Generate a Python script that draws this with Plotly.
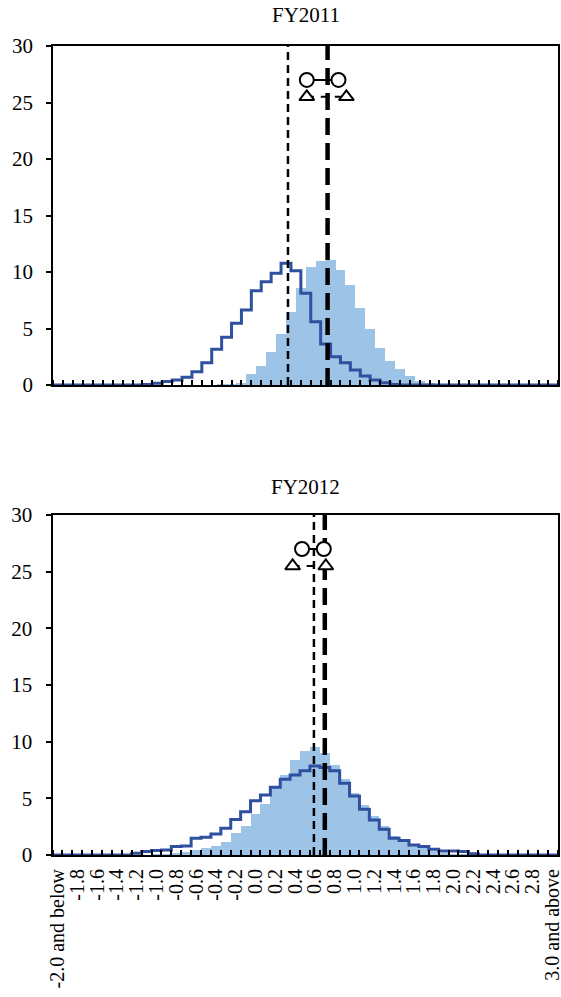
import plotly.graph_objects as go

# ---------------- data ----------------
CATEGORIES = ["-2.0 and below", "-1.9", "-1.8", "-1.7", "-1.6", "-1.5", "-1.4", "-1.3", "-1.2", "-1.1",
              "-1.0", "-0.9", "-0.8", "-0.7", "-0.6", "-0.5", "-0.4", "-0.3", "-0.2", "-0.1",
              "0.0", "0.1", "0.2", "0.3", "0.4", "0.5", "0.6", "0.7", "0.8", "0.9",
              "1.0", "1.1", "1.2", "1.3", "1.4", "1.5", "1.6", "1.7", "1.8", "1.9",
              "2.0", "2.1", "2.2", "2.3", "2.4", "2.5", "2.6", "2.7", "2.8", "2.9",
              "3.0 and above"]

BARS_FY2011 = [0, 0, 0, 0, 0, 0, 0, 0, 0, 0,
               0, 0, 0, 0, 0, 0, 0.05, 0.1, 0.2, 0.95,
               1.7, 2.95, 4.5, 6.5, 8.55, 10.4, 11.0, 11.05, 10.2, 8.85,
               6.8, 5.0, 3.3, 2.15, 1.4, 0.8, 0.35, 0.15, 0.05, 0,
               0, 0, 0, 0, 0, 0, 0, 0, 0, 0,
               0]
LINE_FY2011 = [0, 0, 0, 0, 0, 0, 0, 0, 0, 0.05,
               0.15, 0.3, 0.45, 0.68, 1.18, 1.97, 3.16, 4.22, 5.46, 6.64,
               8.35, 9.14, 9.88, 10.77, 10.1, 8.11, 5.6, 3.63, 2.5, 1.97,
               1.33, 0.8, 0.44, 0.2, 0.05, 0, 0, 0, 0, 0,
               0, 0, 0, 0, 0, 0, 0, 0, 0, 0,
               0]
BARS_FY2012 = [0, 0, 0, 0, 0, 0, 0, 0, 0, 0,
               0.05, 0.1, 0.15, 0.3, 0.44, 0.59, 0.79, 1.15, 1.91, 2.56,
               3.59, 4.5, 5.88, 7.06, 8.38, 9.18, 9.5, 9.03, 7.94, 6.68,
               5.5, 4.41, 3.44, 2.56, 1.68, 1.18, 0.88, 0.59, 0.38, 0.2,
               0.1, 0.05, 0, 0, 0, 0, 0, 0, 0, 0,
               0]
LINE_FY2012 = [0, 0, 0, 0, 0, 0, 0, 0, 0.15, 0.3,
               0.4, 0.45, 0.75, 0.8, 1.47, 1.56, 1.85, 2.35, 3.14, 3.82,
               4.79, 5.3, 5.97, 6.68, 7.06, 7.44, 7.85, 7.71, 7.44, 6.32,
               5.21, 4.03, 3.09, 2.27, 1.47, 1.27, 0.88, 0.74, 0.5, 0.35,
               0.35, 0.3, 0.12, 0, 0, 0, 0, 0, 0, 0,
               0]

# vertical reference lines (in value units)
THICK_LINE = {"FY2011": 0.72, "FY2012": 0.70}
THIN_LINE = {"FY2011": 0.32, "FY2012": 0.59}
# range markers (value units) and their heights
CIRCLES_X = {"FY2011": [0.51, 0.83], "FY2012": [0.47, 0.69]}
TRIANGLES_X = {"FY2011": [0.51, 0.91], "FY2012": [0.375, 0.71]}
CIRCLE_Y = 27
TRIANGLE_Y = 25.5

YEARS = ["FY2011", "FY2012"]
BARS = {"FY2011": BARS_FY2011, "FY2012": BARS_FY2012}
LINES = {"FY2011": LINE_FY2011, "FY2012": LINE_FY2012}

# ---------------- styling ----------------
BAR_COLOR = "#9DC3E6"
LINE_COLOR = "#2F4F9F"
FONT = "Liberation Serif, Times New Roman, serif"
BAR_SHIFT = {"FY2011": 0.5, "FY2012": 0.0}

X_DOMAINS = {"FY2011": [53.3 / 561, 558.3 / 561], "FY2012": [52.5 / 561, 557.5 / 561]}
Y_DOMAINS = {"FY2011": [1 - 385 / 997, 1 - 46 / 997], "FY2012": [1 - 855 / 997, 1 - 515 / 997]}
TITLE_Y = {"FY2011": 1 - 15 / 997, "FY2012": 1 - 487 / 997}

START = -2.0
STEP = 0.1


def to_x(v):
    return (v - START) / STEP


fig = go.Figure()
n = len(CATEGORIES)
idx = list(range(n))

for i, year in enumerate(YEARS):
    xa = "x" if i == 0 else "x2"
    ya = "y" if i == 0 else "y2"
    # histogram bars
    bx = [k + BAR_SHIFT[year] for k in idx]
    fig.add_trace(go.Bar(x=bx, y=BARS[year], width=1.0, marker=dict(color=BAR_COLOR, line=dict(width=0)),
                         xaxis=xa, yaxis=ya, showlegend=False))
    # step line
    lx = [-0.5] + idx + [n - 0.5]
    ly = [LINES[year][0]] + list(LINES[year]) + [LINES[year][-1]]
    fig.add_trace(go.Scatter(x=lx, y=ly, mode="lines", line=dict(color=LINE_COLOR, width=3, shape="hvh"),
                             xaxis=xa, yaxis=ya, showlegend=False))
    # thin dashed
    xv = to_x(THIN_LINE[year])
    fig.add_trace(go.Scatter(x=[xv, xv], y=[0, 30], mode="lines",
                             line=dict(color="black", width=2.5, dash="8px,5px"),
                             xaxis=xa, yaxis=ya, showlegend=False))
    # thick dashed
    xv = to_x(THICK_LINE[year])
    fig.add_trace(go.Scatter(x=[xv, xv], y=[0, 30], mode="lines",
                             line=dict(color="black", width=4.5, dash="17px,8px"),
                             xaxis=xa, yaxis=ya, showlegend=False))
    # triangles with dashed connector
    tx = [to_x(v) for v in TRIANGLES_X[year]]
    fig.add_trace(go.Scatter(x=tx, y=[TRIANGLE_Y] * 2, mode="lines+markers",
                             line=dict(color="black", width=2, dash="7px,7px"),
                             marker=dict(symbol="triangle-up", size=13, color="white",
                                         line=dict(color="black", width=2)),
                             xaxis=xa, yaxis=ya, showlegend=False))
    # circles with solid connector
    cx = [to_x(v) for v in CIRCLES_X[year]]
    fig.add_trace(go.Scatter(x=cx, y=[CIRCLE_Y] * 2, mode="lines+markers",
                             line=dict(color="black", width=2),
                             marker=dict(symbol="circle", size=14, color="white",
                                         line=dict(color="black", width=2)),
                             xaxis=xa, yaxis=ya, showlegend=False))

    show_labels = (i == 1)
    xaxis = dict(domain=X_DOMAINS[year], range=[-0.5, n - 0.5], anchor=ya,
                 showline=True, linecolor="black", linewidth=2, mirror=True,
                 showgrid=False, zeroline=False, automargin=False,
                 tickmode="array", tickvals=idx[::2], ticktext=CATEGORIES[::2],
                 showticklabels=show_labels, tickangle=-90, ticks="",
                 ticklabeloverflow="allow", ticklabelstandoff=4,
                 tickfont=dict(family=FONT, size=20, color="black"),
                 minor=dict(tick0=0.5, dtick=1, ticks="inside", ticklen=5, tickwidth=2,
                            tickcolor="black", showgrid=False),
                 fixedrange=True)
    yaxis = dict(domain=Y_DOMAINS[year], range=[0, 30], anchor=xa,
                 showline=True, linecolor="black", linewidth=2, mirror=True,
                 showgrid=False, zeroline=False, automargin=False,
                 tickmode="linear", tick0=0, dtick=5,
                 ticks="outside", ticklen=5, tickwidth=2, tickcolor="black",
                 ticklabeloverflow="allow", ticklabelstandoff=9,
                 tickfont=dict(family=FONT, size=21, color="black"),
                 fixedrange=True)
    if i == 0:
        fig.update_layout(xaxis=xaxis, yaxis=yaxis)
    else:
        fig.update_layout(xaxis2=xaxis, yaxis2=yaxis)

    fig.add_annotation(text=year, xref="paper", yref="paper",
                       x=(X_DOMAINS[year][0] + X_DOMAINS[year][1]) / 2, y=TITLE_Y[year],
                       xanchor="center", yanchor="middle", showarrow=False,
                       font=dict(family=FONT, size=21, color="black"))

fig.update_layout(width=561, height=997, margin=dict(l=0, r=0, t=0, b=0, autoexpand=False),
                  paper_bgcolor="white", plot_bgcolor="white", bargap=0, barmode="overlay",
                  hovermode=False)

fig.write_html("out.html", config={"displayModeBar": False, "staticPlot": True},
               post_script="document.body.style.margin='0';document.body.style.overflow='hidden';")
